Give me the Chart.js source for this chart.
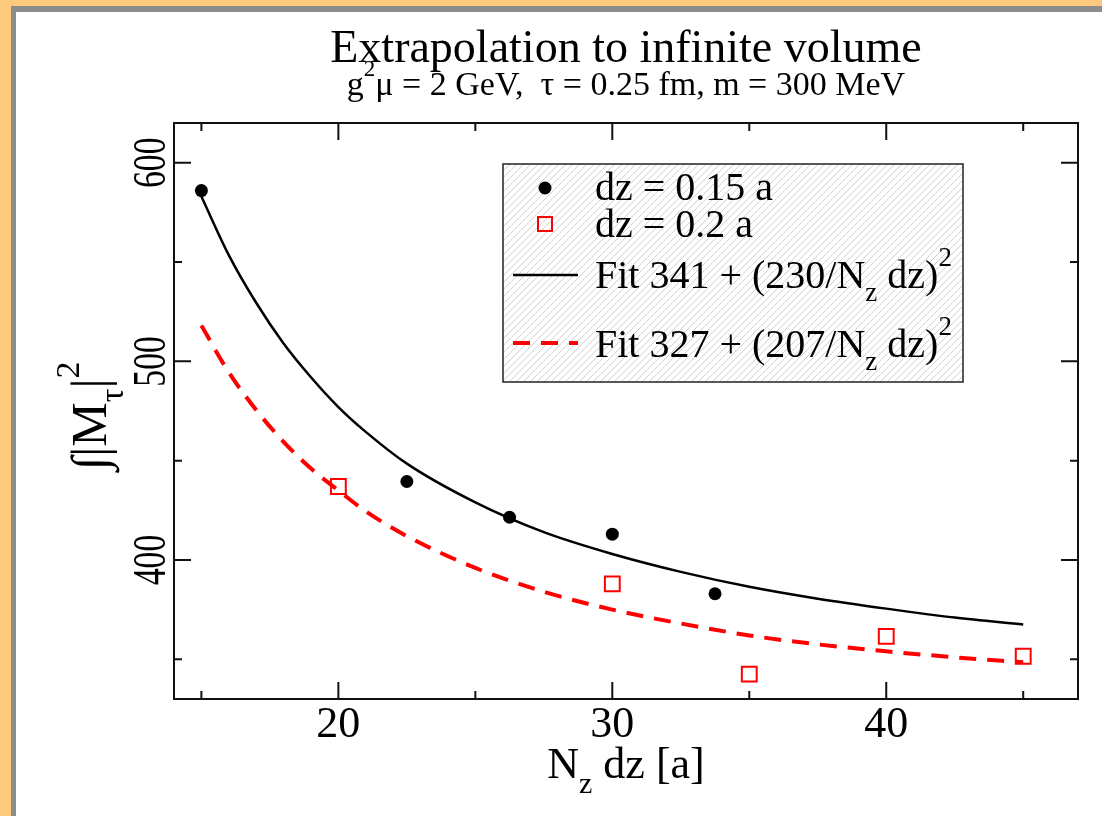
<!DOCTYPE html>
<html>
<head>
<meta charset="utf-8">
<script src="https://cdn.jsdelivr.net/npm/chart.js@4"></script>
<style>
  body { margin: 0; }
  #frame { position: absolute; left: 0; top: 0; width: 1091px; height: 810px;
           border-left: 11px solid #ffc97e; border-top: 6px solid #ffc97e; }
  #inner { width: 1086px; height: 804px; background: #fff;
           border-left: 5px solid #8c8c8c; border-top: 6px solid #8c8c8c; }
  #myChart { position: absolute; left: 0; top: 0; }
</style>
</head>
<body>
<div id="frame"><div id="inner"></div></div>
<canvas id="myChart" width="1102" height="816"></canvas>
<script>
const serif = "'Liberation Serif', 'Times New Roman', serif";

// dz = 0.15 a
const nzDzFine = [15, 22.5, 26.25, 30, 33.75];
const intMFine = [586, 439.5, 421.5, 413, 383];

// dz = 0.2 a
const nzDzCoarse = [20, 30, 35, 40, 45];
const intMCoarse = [437, 388, 342.5, 361.5, 351.5];

// fit curves, sampled along N_z dz
const fitNzDz = [15, 16, 17, 18, 19, 20, 21, 22.5, 25, 27.5, 30, 32.5, 35, 37.5, 40, 42.5, 45];
const fit341 = [583, 553.5, 529.5, 509, 492, 477, 464.5, 448.5, 429, 414, 403, 394, 386.5, 380.5, 375.5, 371, 367.5];
const fit327 = [518, 494.5, 475.5, 459.5, 446, 435, 424.5, 412, 396, 384, 375, 368, 362, 357.5, 354, 351, 348.5];

const xTickLabels = [20, 30, 40];
const yTickLabels = [400, 500, 600];

const legendItems = [
  { kind: "dot", parts: [["dz = 0.15 a", ""]] },
  { kind: "square", parts: [["dz = 0.2 a", ""]] },
  { kind: "solid", parts: [["Fit 341 + (230/N", ""], ["z", "sub"], [" dz)", ""], ["2", "sup"]] },
  { kind: "dashed", parts: [["Fit 327 + (207/N", ""], ["z", "sub"], [" dz)", ""], ["2", "sup"]] },
];

function zip(xs, ys) {
  return xs.map((x, i) => ({ x: x, y: ys[i] }));
}

// text with sub/superscript pieces: parts = [[text, ""|"sub"|"sup"], ...]
function partFont(size, kind) {
  const s = kind ? Math.round(size * 0.68) : size;
  return s + "px " + serif;
}

function richWidth(ctx, parts, size) {
  let w = 0;
  parts.forEach(p => {
    ctx.font = partFont(size, p[1]);
    w += ctx.measureText(p[0]).width;
  });
  return w;
}

function drawRich(ctx, parts, x, y, size, align) {
  const w = richWidth(ctx, parts, size);
  let cx = align === "center" ? x - w / 2 : x;
  ctx.textAlign = "left";
  ctx.textBaseline = "alphabetic";
  parts.forEach(p => {
    ctx.font = partFont(size, p[1]);
    let dy = 0;
    if (p[1] === "sub") dy = size * 0.33;
    if (p[1] === "sup") dy = -size * 0.55;
    ctx.fillText(p[0], cx, y + dy);
    cx += ctx.measureText(p[0]).width;
  });
}

function drawLegend(ctx) {
  const box = { left: 503, top: 164, right: 963, bottom: 382 };
  ctx.save();
  ctx.fillStyle = "#fff";
  ctx.fillRect(box.left, box.top, box.right - box.left, box.bottom - box.top);
  ctx.beginPath();
  ctx.rect(box.left, box.top, box.right - box.left, box.bottom - box.top);
  ctx.clip();
  ctx.strokeStyle = "#d0d0d0";
  ctx.lineWidth = 1;
  ctx.beginPath();
  const h = box.bottom - box.top;
  for (let x = box.left - h; x < box.right; x += 7) {
    ctx.moveTo(x, box.bottom);
    ctx.lineTo(x + h, box.top);
  }
  ctx.stroke();
  ctx.restore();

  ctx.save();
  ctx.strokeStyle = "#222";
  ctx.lineWidth = 1.5;
  ctx.strokeRect(box.left, box.top, box.right - box.left, box.bottom - box.top);

  const rows = [188, 224, 275, 343];
  const baselines = [200, 237, 288, 357];
  legendItems.forEach((item, i) => {
    const y = rows[i];
    if (item.kind === "dot") {
      ctx.fillStyle = "#000";
      ctx.beginPath();
      ctx.arc(545, y, 6.5, 0, Math.PI * 2);
      ctx.fill();
    } else if (item.kind === "square") {
      ctx.strokeStyle = "#ff0000";
      ctx.lineWidth = 2;
      ctx.strokeRect(538, y - 7, 14, 14);
    } else {
      ctx.beginPath();
      ctx.strokeStyle = item.kind === "solid" ? "#000" : "#ff0000";
      ctx.lineWidth = item.kind === "solid" ? 2.5 : 4;
      ctx.setLineDash(item.kind === "solid" ? [] : [17, 11]);
      ctx.moveTo(513, y);
      ctx.lineTo(578, y);
      ctx.stroke();
      ctx.setLineDash([]);
    }
    ctx.fillStyle = "#000";
    drawRich(ctx, item.parts, 595, baselines[i], 40, "left");
  });
  ctx.restore();
}

const plotDecor = {
  id: "plotDecor",
  afterDatasetsDraw(chart) {
    const ctx = chart.ctx;
    const area = chart.chartArea;
    const xs = chart.scales.x;
    const ys = chart.scales.y;

    // frame with inward ticks on all four sides
    ctx.save();
    ctx.strokeStyle = "#111";
    ctx.lineWidth = 2;
    ctx.strokeRect(area.left, area.top, area.right - area.left, area.bottom - area.top);
    ctx.beginPath();
    xs.ticks.forEach(t => {
      const px = xs.getPixelForValue(t.value);
      const len = t.value % 10 === 0 ? 17 : 8;
      ctx.moveTo(px, area.bottom);
      ctx.lineTo(px, area.bottom - len);
      ctx.moveTo(px, area.top);
      ctx.lineTo(px, area.top + len);
    });
    ys.ticks.forEach(t => {
      const py = ys.getPixelForValue(t.value);
      const len = t.value % 100 === 0 ? 17 : 8;
      ctx.moveTo(area.left, py);
      ctx.lineTo(area.left + len, py);
      ctx.moveTo(area.right, py);
      ctx.lineTo(area.right - len, py);
    });
    ctx.stroke();

    // rotated y tick labels
    ctx.fillStyle = "#000";
    ctx.font = "47px " + serif;
    ctx.textAlign = "center";
    ctx.textBaseline = "alphabetic";
    ys.ticks.forEach(t => {
      if (!yTickLabels.includes(t.value)) return;
      ctx.save();
      ctx.translate(165, ys.getPixelForValue(t.value));
      ctx.rotate(-Math.PI / 2);
      ctx.scale(0.72, 1);
      ctx.fillText(String(t.value), 0, 0);
      ctx.restore();
    });

    // titles
    const mid = (area.left + area.right) / 2;
    ctx.font = "46px " + serif;
    ctx.textAlign = "center";
    ctx.fillText("Extrapolation to infinite volume", mid, 62);
    drawRich(ctx, [["g", ""], ["2", "sup"], ["\u03bc = 2 GeV,  \u03c4 = 0.25 fm, m = 300 MeV", ""]], mid, 95, 34, "center");

    // axis titles
    drawRich(ctx, [["N", ""], ["z", "sub"], [" dz [a]", ""]], mid, 778, 44, "center");
    ctx.save();
    ctx.translate(106, 416);
    ctx.rotate(-Math.PI / 2);
    drawRich(ctx, [["\u222b|M", ""], ["\u03c4", "sub"], ["|", ""], ["2", "sup"]], 0, 0, 50, "center");
    ctx.restore();
    ctx.restore();

    drawLegend(ctx);
  },
};

const config = {
  type: "scatter",
  data: {
    datasets: [
      {
        label: "dz = 0.15 a",
        data: zip(nzDzFine, intMFine),
        pointStyle: "circle",
        pointRadius: 6.5,
        backgroundColor: "#000",
        borderColor: "#000",
        borderWidth: 0,
      },
      {
        label: "dz = 0.2 a",
        data: zip(nzDzCoarse, intMCoarse),
        pointStyle: "rect",
        pointRadius: 10.5,
        backgroundColor: "rgba(0,0,0,0)",
        borderColor: "#ff0000",
        borderWidth: 2,
      },
      {
        label: "Fit 341",
        data: zip(fitNzDz, fit341),
        showLine: true,
        pointRadius: 0,
        borderColor: "#000",
        borderWidth: 2.5,
        cubicInterpolationMode: "monotone",
      },
      {
        label: "Fit 327",
        data: zip(fitNzDz, fit327),
        showLine: true,
        pointRadius: 0,
        borderColor: "#ff0000",
        borderWidth: 4,
        borderDash: [17, 11],
        cubicInterpolationMode: "monotone",
      },
    ],
  },
  options: {
    responsive: false,
    animation: false,
    layout: { padding: { top: 123, right: 24, left: 0, bottom: 0 } },
    plugins: {
      legend: { display: false },
      tooltip: { enabled: false },
    },
    scales: {
      x: {
        type: "linear",
        min: 14,
        max: 47,
        grid: { display: false, drawTicks: false },
        border: { display: false },
        ticks: {
          stepSize: 5,
          includeBounds: false,
          autoSkip: false,
          maxRotation: 0,
          padding: 0,
          color: "#000",
          font: { family: serif, size: 44 },
          callback: value => (xTickLabels.includes(value) ? String(value) : ""),
        },
        afterFit(scale) {
          scale.height = 117;
        },
      },
      y: {
        type: "linear",
        min: 330,
        max: 620,
        grid: { display: false, drawTicks: false },
        border: { display: false },
        ticks: { stepSize: 50, includeBounds: false, display: false },
        afterFit(scale) {
          scale.width = 174;
        },
      },
    },
  },
  plugins: [plotDecor],
};

const ctx = document.getElementById("myChart");
const myChart = new Chart(ctx, config);
</script>
</body>
</html>
